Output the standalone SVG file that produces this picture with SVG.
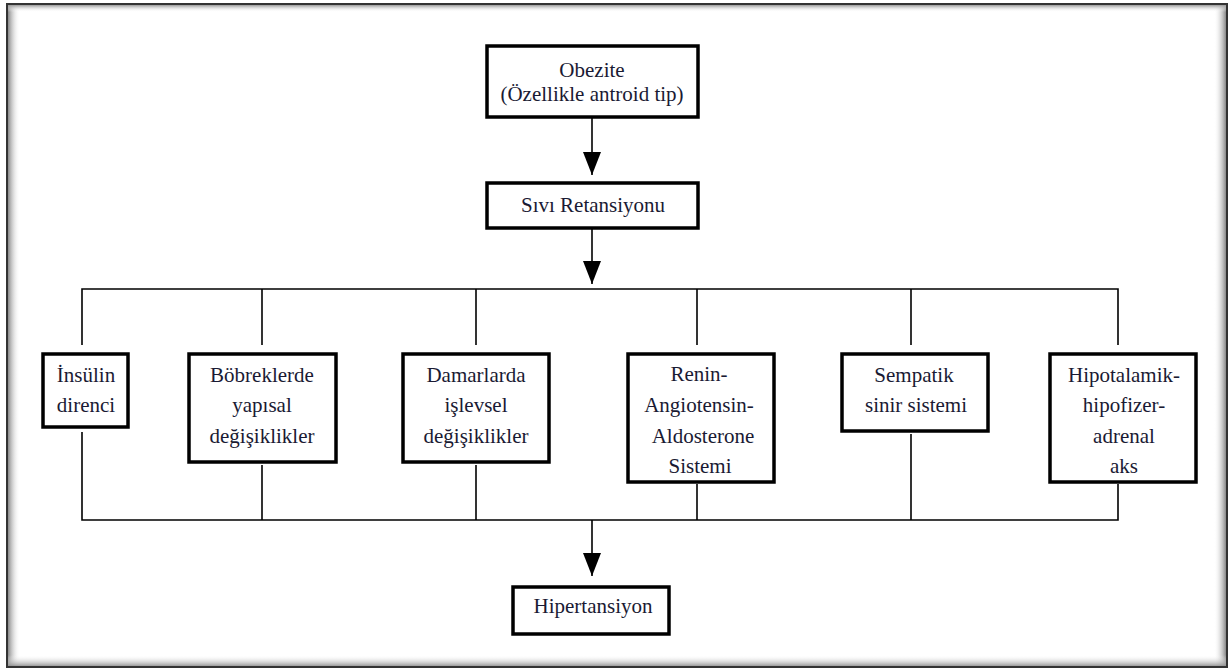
<svg xmlns="http://www.w3.org/2000/svg" width="1230" height="670" viewBox="0 0 1230 670">
<style>
.box{fill:#fff;stroke:#000;stroke-width:3.5}
.t{font-size:21px;fill:#1a1a33;text-anchor:middle}
.c{fill:none;stroke:#000;stroke-width:1.6}
</style>
<defs>
<marker id="ah" markerWidth="24" markerHeight="18" refX="23" refY="9" orient="auto" markerUnits="userSpaceOnUse" viewBox="0 0 24 18">
<path d="M0,0 L23,9 L0,18 Z" fill="#000"/>
</marker>
<linearGradient id="gl" x1="0" y1="0" x2="1" y2="0"><stop offset="0" stop-color="#888"/><stop offset="1" stop-color="#fff" stop-opacity="0"/></linearGradient>
<linearGradient id="gr" x1="1" y1="0" x2="0" y2="0"><stop offset="0" stop-color="#888"/><stop offset="1" stop-color="#fff" stop-opacity="0"/></linearGradient>
<linearGradient id="gt" x1="0" y1="0" x2="0" y2="1"><stop offset="0" stop-color="#999"/><stop offset="1" stop-color="#fff" stop-opacity="0"/></linearGradient>
<linearGradient id="gb" x1="0" y1="1" x2="0" y2="0"><stop offset="0" stop-color="#888"/><stop offset="1" stop-color="#fff" stop-opacity="0"/></linearGradient>
</defs>
<rect x="0" y="0" width="1230" height="670" fill="#fff"/>
<g id="frame">
<rect x="8" y="5" width="12" height="662" fill="url(#gl)"/>
<rect x="1214" y="5" width="12" height="662" fill="url(#gr)"/>
<rect x="8" y="5" width="1218" height="7" fill="url(#gt)"/>
<rect x="8" y="655" width="1218" height="12" fill="url(#gb)"/>
<rect x="7" y="4" width="1220" height="663" fill="none" stroke="#333" stroke-width="2"/>
</g>
<g id="connectors">
<line class="c" x1="592" y1="118" x2="592" y2="175" marker-end="url(#ah)"/>
<line class="c" x1="592" y1="229" x2="592" y2="284" marker-end="url(#ah)"/>
<polyline class="c" points="82,345 82,289 1118,289 1118,345"/>
<line class="c" x1="262" y1="289" x2="262" y2="345"/>
<line class="c" x1="476" y1="289" x2="476" y2="345"/>
<line class="c" x1="697" y1="289" x2="697" y2="345"/>
<line class="c" x1="911" y1="289" x2="911" y2="345"/>
<polyline class="c" points="82,432 82,520 1118,520 1118,484"/>
<line class="c" x1="262" y1="465" x2="262" y2="520"/>
<line class="c" x1="476" y1="465" x2="476" y2="520"/>
<line class="c" x1="697" y1="484" x2="697" y2="520"/>
<line class="c" x1="911" y1="434" x2="911" y2="520"/>
<line class="c" x1="592" y1="520" x2="592" y2="576" marker-end="url(#ah)"/>
</g>
<g font-family="Times New Roman, Liberation Serif, DejaVu Serif, serif">
<g id="n-obezite">
<rect class="box" x="487" y="46" width="211" height="71"/>
<text class="t" x="592" y="77">Obezite</text>
<text class="t" x="592" y="101">(Özellikle antroid tip)</text>
</g>
<g id="n-sivi">
<rect class="box" x="487" y="183" width="211" height="45"/>
<text class="t" x="593" y="212">Sıvı Retansiyonu</text>
</g>
<g id="n-insulin">
<rect class="box" x="43" y="354" width="85" height="73"/>
<text class="t" x="86" y="382">İnsülin</text>
<text class="t" x="86" y="412">direnci</text>
</g>
<g id="n-bobrek">
<rect class="box" x="189" y="354" width="147" height="108"/>
<text class="t" x="262" y="382">Böbreklerde</text>
<text class="t" x="262" y="412">yapısal</text>
<text class="t" x="262" y="443">değişiklikler</text>
</g>
<g id="n-damar">
<rect class="box" x="403" y="354" width="146" height="108"/>
<text class="t" x="476" y="382">Damarlarda</text>
<text class="t" x="476" y="412">işlevsel</text>
<text class="t" x="476" y="443">değişiklikler</text>
</g>
<g id="n-renin">
<rect class="box" x="628" y="354" width="146" height="128"/>
<text class="t" x="699" y="381">Renin-</text>
<text class="t" x="699" y="412">Angiotensin-</text>
<text class="t" x="703" y="443">Aldosterone</text>
<text class="t" x="700" y="473">Sistemi</text>
</g>
<g id="n-sempatik">
<rect class="box" x="842" y="354" width="146" height="77"/>
<text class="t" x="914" y="382">Sempatik</text>
<text class="t" x="916" y="412">sinir sistemi</text>
</g>
<g id="n-hipotalamik">
<rect class="box" x="1050" y="354" width="146" height="128"/>
<text class="t" x="1124" y="382">Hipotalamik-</text>
<text class="t" x="1124" y="412">hipofizer-</text>
<text class="t" x="1124" y="443">adrenal</text>
<text class="t" x="1124" y="473">aks</text>
</g>
<g id="n-hipertansiyon">
<rect class="box" x="513" y="587" width="156" height="47"/>
<text class="t" x="593" y="613">Hipertansiyon</text>
</g>
</g>
</svg>
